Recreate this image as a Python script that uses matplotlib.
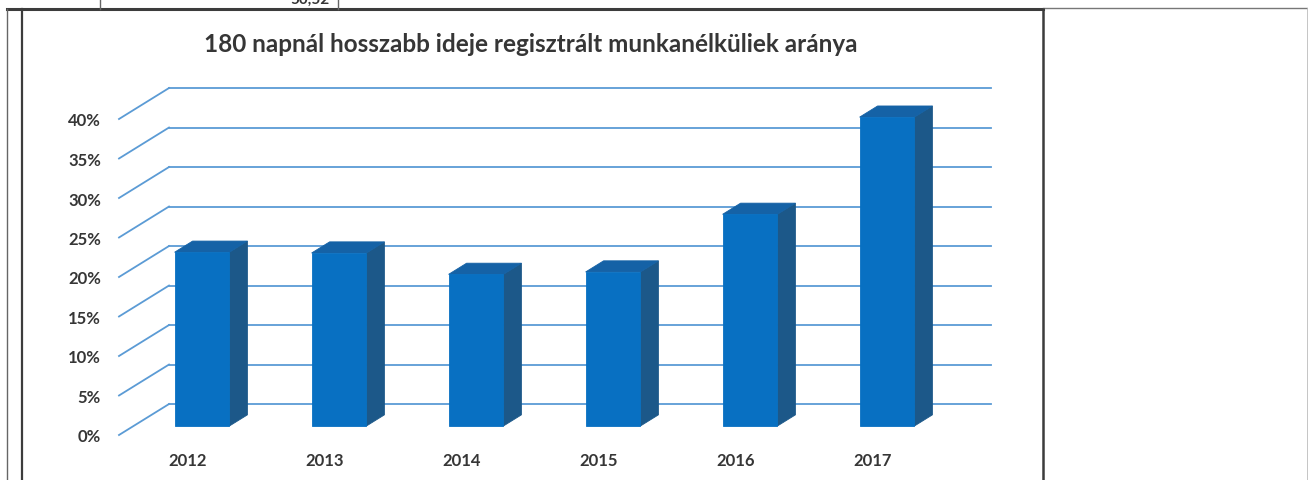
import matplotlib
matplotlib.use("Agg")
import matplotlib.pyplot as plt
from matplotlib.lines import Line2D
from matplotlib.patches import Polygon

# adatok
years = ["2012", "2013", "2014", "2015", "2016", "2017"]
shares = [22.0, 21.9, 19.2, 19.5, 26.8, 39.1]
tick_values = [0, 5, 10, 15, 20, 25, 30, 35, 40]
tick_labels = ["0%", "5%", "10%", "15%", "20%", "25%", "30%", "35%", "40%"]
title = "180 napnál hosszabb ideje regisztrált munkanélküliek aránya"

W, H = 1308, 481
plt.rcParams['font.family'] = ['Lato', 'DejaVu Sans']
text_col = "#363636"
grid_col = "#5b9bd5"
front_col = "#0870c2"
side_col = "#1c5889"
top_col = "#1562a6"

# 3D hatás: mélység eltolása adategységben
DX, DY = 0.365, 3.92
d0, d1 = 0.29, 0.65
bar_w = 0.40


def px(x, y):
    return x / W, 1 - y / H


fig = plt.figure(figsize=(W / 100, H / 100), dpi=100)
ax = fig.add_axes([119 / W, 45 / H, 822 / W, 316 / H])
ax.set_xlim(-0.5, 5.5)
ax.set_ylim(0, 40)
for s in ax.spines.values():
    s.set_visible(False)

# rácsvonalak: hátsó fal és bal oldalfal
for t in tick_values:
    ax.add_line(Line2D([-0.5 + DX, 5.5 + DX], [t + DY, t + DY], color=grid_col,
                       lw=1.3, clip_on=False, zorder=1))
    ax.add_line(Line2D([-0.5, -0.5 + DX], [t, t + DY], color=grid_col,
                       lw=1.3, clip_on=False, zorder=1))

# oszlopok
xs = [i + d0 * DX for i in range(len(years))]
base = d0 * DY
bars = ax.bar(xs, shares, width=bar_w, bottom=base, color=front_col,
              edgecolor=front_col, linewidth=0.6, zorder=4)
for b in bars:
    b.set_clip_on(False)
ddx, ddy = (d1 - d0) * DX, (d1 - d0) * DY
for x, v in zip(xs, shares):
    xl, xr, top = x - bar_w / 2, x + bar_w / 2, base + v
    ax.add_patch(Polygon([(xr, base), (xr + ddx, base + ddy), (xr + ddx, top + ddy), (xr, top)],
                         closed=True, facecolor=side_col, edgecolor=side_col, lw=0.6,
                         zorder=3, clip_on=False))
    ax.add_patch(Polygon([(xl, top), (xr, top), (xr + ddx, top + ddy), (xl + ddx, top + ddy)],
                         closed=True, facecolor=top_col, edgecolor=top_col, lw=0.6,
                         zorder=3, clip_on=False))

ax.set_xticks(range(len(years)))
ax.set_xticklabels(years)
ax.set_yticks(tick_values)
ax.set_yticklabels(tick_labels)
ax.tick_params(axis='both', length=0, labelsize=12, labelcolor=text_col)
ax.tick_params(axis='x', pad=12)
ax.tick_params(axis='y', pad=13)
for lab in ax.get_xticklabels() + ax.get_yticklabels():
    lab.set_fontweight('bold')

fig.text(*px(531, 45), title, ha='center', va='center', fontsize=17.5,
         fontweight='bold', color=text_col)

# a beszkennelt dokumentum keretvonalai
def frame(x0, y0, x1, y1, lw, col="#3c3c3c"):
    a, b = px(x0, y0)
    c, d = px(x1, y1)
    fig.add_artist(Line2D([a, c], [b, d], transform=fig.transFigure, lw=lw, color=col))

frame(7, 10, 1043, 10, 2.2)
frame(1043, 9, 1308, 9, 1.0, "#777777")
frame(7, 10, 7, 481, 1.0, "#666666")
frame(22, 10, 22, 481, 1.6)
frame(1043, 10, 1043, 481, 1.8)
frame(1307, 9, 1307, 481, 0.6, "#bbbbbb")
frame(100, 0, 100, 10, 1.0, "#666666")
frame(338, 0, 338, 10, 1.0, "#666666")
fig.text(*px(330, 4), "50,52", ha='right', va='baseline', fontsize=11,
         fontweight='bold', color=text_col)

fig.savefig("out.png", dpi=100)
